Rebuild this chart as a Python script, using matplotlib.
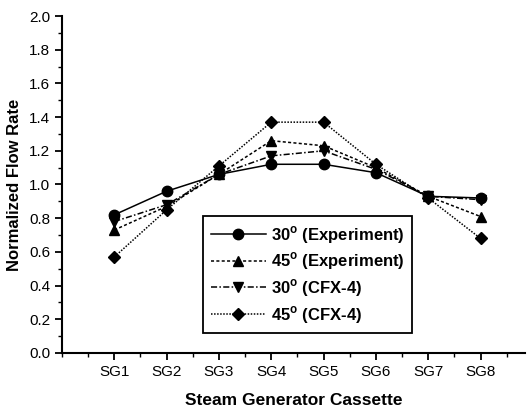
import numpy as np
import matplotlib.pyplot as plt
from matplotlib.ticker import MultipleLocator

plt.rcParams['font.family'] = ['Liberation Sans', 'DejaVu Sans']
plt.rcParams['mathtext.fontset'] = 'custom'
plt.rcParams['mathtext.bf'] = 'Liberation Sans:bold'

cassettes = ['SG1', 'SG2', 'SG3', 'SG4', 'SG5', 'SG6', 'SG7', 'SG8']
exp_30 = [0.82, 0.96, 1.06, 1.12, 1.12, 1.07, 0.93, 0.92]
exp_45 = [0.73, 0.87, 1.06, 1.26, 1.23, 1.10, 0.93, 0.81]
cfx_30 = [0.78, 0.88, 1.06, 1.17, 1.20, 1.09, 0.93, 0.91]
cfx_45 = [0.57, 0.85, 1.11, 1.37, 1.37, 1.12, 0.92, 0.68]

x = np.arange(1, len(cassettes) + 1)

fig = plt.figure(figsize=(5.27, 4.09), dpi=100)
ax = fig.add_axes([62/527, 56/409, 463/527, 337/409])

series = [
    # (values, marker, linestyle, label)
    (exp_30, 'o', '-',  r'30$^{\bf o}$ (Experiment)'),
    (exp_45, '^', (0, (2, 1.5)), r'45$^{\bf o}$ (Experiment)'),
    (cfx_30, 'v', (0, (4, 1.5, 1, 1.5)), r'30$^{\bf o}$ (CFX-4)'),
    (cfx_45, 'D', (0, (1, 1)), r'45$^{\bf o}$ (CFX-4)'),
]
for vals, mk, ls, lab in series:
    ax.plot(x, vals, color='black', marker=mk, linestyle=ls, linewidth=1.1,
            markersize=7.5 if mk != 'D' else 6.5, label=lab)

ax.set_xlim(0, 8.85)
ax.set_ylim(0, 2.0)
ax.set_xticks(x)
ax.set_xticklabels(cassettes)
ax.xaxis.set_minor_locator(MultipleLocator(0.5))
ax.yaxis.set_major_locator(MultipleLocator(0.2))
ax.yaxis.set_minor_locator(MultipleLocator(0.1))
ax.set_yticklabels([f'{v:.1f}' for v in ax.get_yticks()])

ax.spines['top'].set_visible(False)
ax.spines['right'].set_visible(False)
ax.spines['left'].set_linewidth(1.5)
ax.spines['bottom'].set_linewidth(1.5)
ax.tick_params(which='major', direction='out', length=5, width=1.3, labelsize=11)
ax.tick_params(which='minor', direction='out', length=3, width=1.0)

ax.set_xlabel('Steam Generator Cassette', fontsize=12.5, fontweight='bold', labelpad=10)
ax.set_ylabel('Normalized Flow Rate', fontsize=12, fontweight='bold', labelpad=5)

leg = ax.legend(loc='upper left', bbox_to_anchor=(133/463, (353-208)/337),
                frameon=True, fancybox=False, edgecolor='black', framealpha=1,
                prop={'weight': 'bold', 'size': 12}, handlelength=3.3,
                borderpad=0.45, labelspacing=0.3, handletextpad=0.3)
leg.get_frame().set_linewidth(1.3)

plt.savefig('out.png', dpi=100)
